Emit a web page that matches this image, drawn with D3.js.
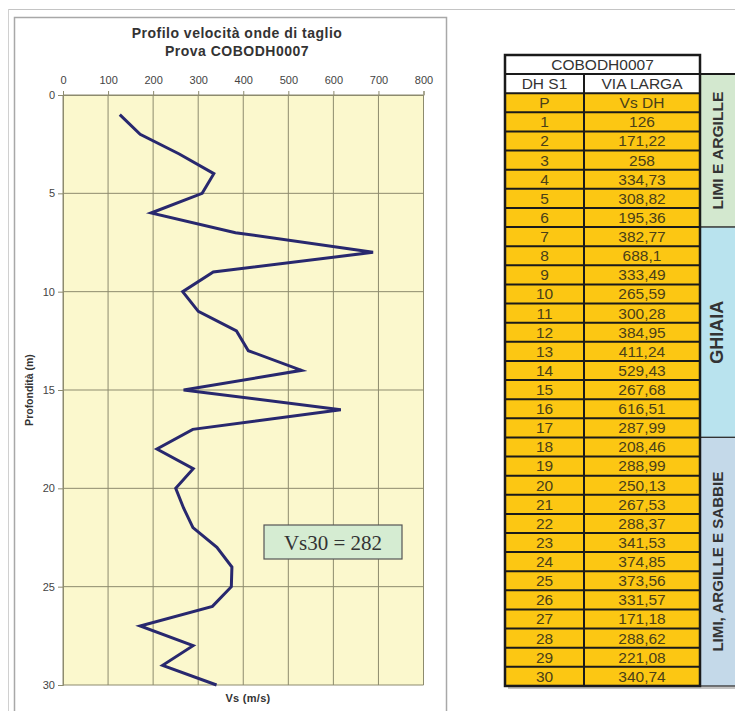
<!DOCTYPE html>
<html>
<head>
<meta charset="utf-8">
<script src="https://cdn.jsdelivr.net/npm/d3@7/dist/d3.min.js"></script>
<style>
  html, body { margin: 0; padding: 0; background: #ffffff; }
  svg { display: block; font-family: "Liberation Sans", Arial, sans-serif; }
</style>
</head>
<body>
<svg id="chart" width="735" height="711"></svg>
<script>
// Shear-wave velocity profile, borehole COBODH0007
const depths = d3.range(1, 31);
const vsValues = [126, 171.22, 258, 334.73, 308.82, 195.36, 382.77, 688.1, 333.49, 265.59,
                  300.28, 384.95, 411.24, 529.43, 267.68, 616.51, 287.99, 208.46, 288.99, 250.13,
                  267.53, 288.37, 341.53, 374.85, 373.56, 331.57, 171.18, 288.62, 221.08, 340.74];
const xTicks = [0, 100, 200, 300, 400, 500, 600, 700, 800];
const yTicks = [0, 5, 10, 15, 20, 25, 30];
const titleLines = ["Profilo velocità onde di taglio", "Prova COBODH0007"];
const vs30Label = "Vs30 = 282";
const tableTitle = "COBODH0007";
const tableSubHeader = ["DH S1", "VIA LARGA"];
const tableColHeader = ["P", "Vs DH"];
const layerNames = ["LIMI E ARGILLE", "GHIAIA", "LIMI, ARGILLE E SABBIE"];
const layerFrom = [1, 7, 18];
const layerTo = [6, 17, 30];
const layerColors = ["#d3e8cf", "#b9e3ee", "#c4d9e9"];
const layerFontSize = [15.5, 17.5, 15];
const layerLabelLen = [118, 63, 180];

const layers = layerNames.map((name, i) => ({
  name, from: layerFrom[i], to: layerTo[i], color: layerColors[i],
  size: layerFontSize[i], len: layerLabelLen[i]
}));

const svg = d3.select("#chart");

// page rules
svg.append("line").attr("x1", 8).attr("x2", 735).attr("y1", 9.5).attr("y2", 9.5)
  .attr("stroke", "#c4c4c4").attr("stroke-width", 1);
svg.append("line").attr("x1", 8.5).attr("x2", 8.5).attr("y1", 9).attr("y2", 711)
  .attr("stroke", "#d0d0d0").attr("stroke-width", 1);

// chart frame
svg.append("rect").attr("x", 14.5).attr("y", 17.5).attr("width", 432).attr("height", 700)
  .attr("fill", "#ffffff").attr("stroke", "#a8a8a8").attr("stroke-width", 1.5);

const plot = { left: 63, right: 423.5, top: 95, bottom: 685 };
const x = d3.scaleLinear().domain([0, 800]).range([plot.left, plot.right]);
const y = d3.scaleLinear().domain([0, 30]).range([plot.top, plot.bottom]);

// title
svg.append("text").attr("x", 237).attr("y", 37.5).attr("text-anchor", "middle")
  .attr("font-size", 14).attr("font-weight", "bold").attr("fill", "#333")
  .attr("letter-spacing", 0.5).text(titleLines[0]);
svg.append("text").attr("x", 237).attr("y", 56).attr("text-anchor", "middle")
  .attr("font-size", 14).attr("font-weight", "bold").attr("fill", "#333")
  .attr("letter-spacing", 0.5).text(titleLines[1]);

// plot background
svg.append("rect").attr("x", plot.left).attr("y", plot.top)
  .attr("width", plot.right - plot.left).attr("height", plot.bottom - plot.top)
  .attr("fill", "#fbf8cd");

// grid
const grid = svg.append("g").attr("stroke", "#8d8b6e").attr("stroke-width", 1);
grid.selectAll(".vx").data(xTicks).join("line")
  .attr("x1", d => x(d)).attr("x2", d => x(d))
  .attr("y1", plot.top).attr("y2", plot.bottom);
grid.selectAll(".hy").data(yTicks).join("line")
  .attr("x1", plot.left).attr("x2", plot.right)
  .attr("y1", d => y(d)).attr("y2", d => y(d));

// axes
const xAxis = svg.append("g").attr("transform", `translate(0,${plot.top})`)
  .call(d3.axisTop(x).tickValues(xTicks).tickSize(4).tickPadding(7).tickFormat(d3.format("d")));
const yAxis = svg.append("g").attr("transform", `translate(${plot.left},0)`)
  .call(d3.axisLeft(y).tickValues(yTicks).tickSize(5).tickPadding(3).tickFormat(d3.format("d")));
[xAxis, yAxis].forEach(a => {
  a.select(".domain").attr("stroke", "#8d8b6e");
  a.selectAll(".tick line").attr("stroke", "#8d8b6e");
  a.selectAll(".tick text").attr("font-size", 11).attr("fill", "#444")
    .attr("font-family", "Liberation Sans, Arial, sans-serif");
});

// axis titles
svg.append("text").attr("transform", "translate(33,390) rotate(-90)")
  .attr("text-anchor", "middle").attr("font-size", 10.5).attr("font-weight", "bold")
  .attr("fill", "#333").text("Profondità (m)");
svg.append("text").attr("x", 248).attr("y", 702).attr("text-anchor", "middle")
  .attr("font-size", 11).attr("font-weight", "bold").attr("fill", "#333")
  .attr("letter-spacing", 0.3).text("Vs (m/s)");

// profile line
const profile = depths.map((d, i) => ({ depth: d, vs: vsValues[i] }));
svg.append("path").datum(profile)
  .attr("fill", "none").attr("stroke", "#28286e").attr("stroke-width", 3)
  .attr("stroke-linejoin", "miter")
  .attr("d", d3.line().x(d => x(d.vs)).y(d => y(d.depth)));

// Vs30 box
svg.append("rect").attr("x", 264).attr("y", 525).attr("width", 138).attr("height", 34)
  .attr("fill", "#d5ecd2").attr("stroke", "#555").attr("stroke-width", 1.2);
svg.append("text").attr("x", 333).attr("y", 550).attr("text-anchor", "middle")
  .attr("font-family", "Liberation Serif, Times New Roman, serif")
  .attr("font-size", 21).attr("fill", "#333").text(vs30Label);

// data table
const tX0 = 505, tX1 = 584, tX2 = 700, tX3 = 742;
const rowH = 19.12, tTop = 55;
const rowY = i => tTop + i * rowH;
const nRows = 3 + vsValues.length;
const tg = svg.append("g");

// shadow
tg.append("rect").attr("x", tX0 + 3).attr("y", rowY(nRows) - 1).attr("width", tX3 - tX0)
  .attr("height", 4).attr("fill", "#9a9a9a").attr("opacity", 0.6);

// white header rows
tg.append("rect").attr("x", tX0).attr("y", rowY(0)).attr("width", tX2 - tX0)
  .attr("height", 2 * rowH).attr("fill", "#ffffff");
// yellow body
tg.append("rect").attr("x", tX0).attr("y", rowY(2)).attr("width", tX2 - tX0)
  .attr("height", (nRows - 2) * rowH).attr("fill", "#fcc713");

// layer bands
const bandTop = l => l.from === 1 ? rowY(1) : rowY(l.from + 2);
tg.selectAll(".band").data(layers).join("rect")
  .attr("x", tX2).attr("y", bandTop)
  .attr("width", tX3 - tX2).attr("height", l => rowY(l.to + 3) - bandTop(l))
  .attr("fill", l => l.color).attr("stroke", "#333").attr("stroke-width", 1.2);
// rotated layer names, stretched along their run to the measured length
tg.selectAll(".bandLabel").data(layers).join("g")
  .attr("transform", l => `translate(${723},${(bandTop(l) + rowY(l.to + 3)) / 2}) rotate(-90)`)
  .append("text")
  .attr("text-anchor", "middle").attr("font-size", l => l.size).attr("font-weight", "bold")
  .attr("fill", "#333").text(l => l.name)
  .each(function (l) {
    const w = this.getComputedTextLength();
    if (w > 0) d3.select(this).attr("transform", `scale(${l.len / w},1)`);
  });

// grid lines of the table
const lines = tg.append("g").attr("stroke", "#1a1a1a").attr("stroke-width", 2);
d3.range(1, nRows).forEach(i => {
  lines.append("line").attr("x1", tX0).attr("x2", tX2).attr("y1", rowY(i)).attr("y2", rowY(i));
});
lines.append("line").attr("x1", tX1).attr("x2", tX1).attr("y1", rowY(1)).attr("y2", rowY(nRows));
lines.append("line").attr("x1", tX2).attr("x2", tX3).attr("y1", rowY(1)).attr("y2", rowY(1));
tg.append("rect").attr("x", tX0).attr("y", rowY(0)).attr("width", tX2 - tX0)
  .attr("height", nRows * rowH).attr("fill", "none").attr("stroke", "#1a1a1a").attr("stroke-width", 2.5);

// table texts
const cellText = (cx, i, txt, color) => tg.append("text")
  .attr("x", cx).attr("y", rowY(i) + rowH / 2 + 5.4).attr("text-anchor", "middle")
  .attr("font-size", 15.5).attr("fill", color).text(txt);
cellText((tX0 + tX2) / 2, 0, tableTitle, "#333");
cellText((tX0 + tX1) / 2, 1, tableSubHeader[0], "#333");
cellText((tX1 + tX2) / 2, 1, tableSubHeader[1], "#333");
cellText((tX0 + tX1) / 2, 2, tableColHeader[0], "#4a4018");
cellText((tX1 + tX2) / 2, 2, tableColHeader[1], "#4a4018");
const fmt = v => String(v).replace(".", ",");
vsValues.forEach((v, k) => {
  cellText((tX0 + tX1) / 2, k + 3, String(depths[k]), "#4a4018");
  cellText((tX1 + tX2) / 2, k + 3, fmt(v), "#4a4018");
});
</script>
</body>
</html>
